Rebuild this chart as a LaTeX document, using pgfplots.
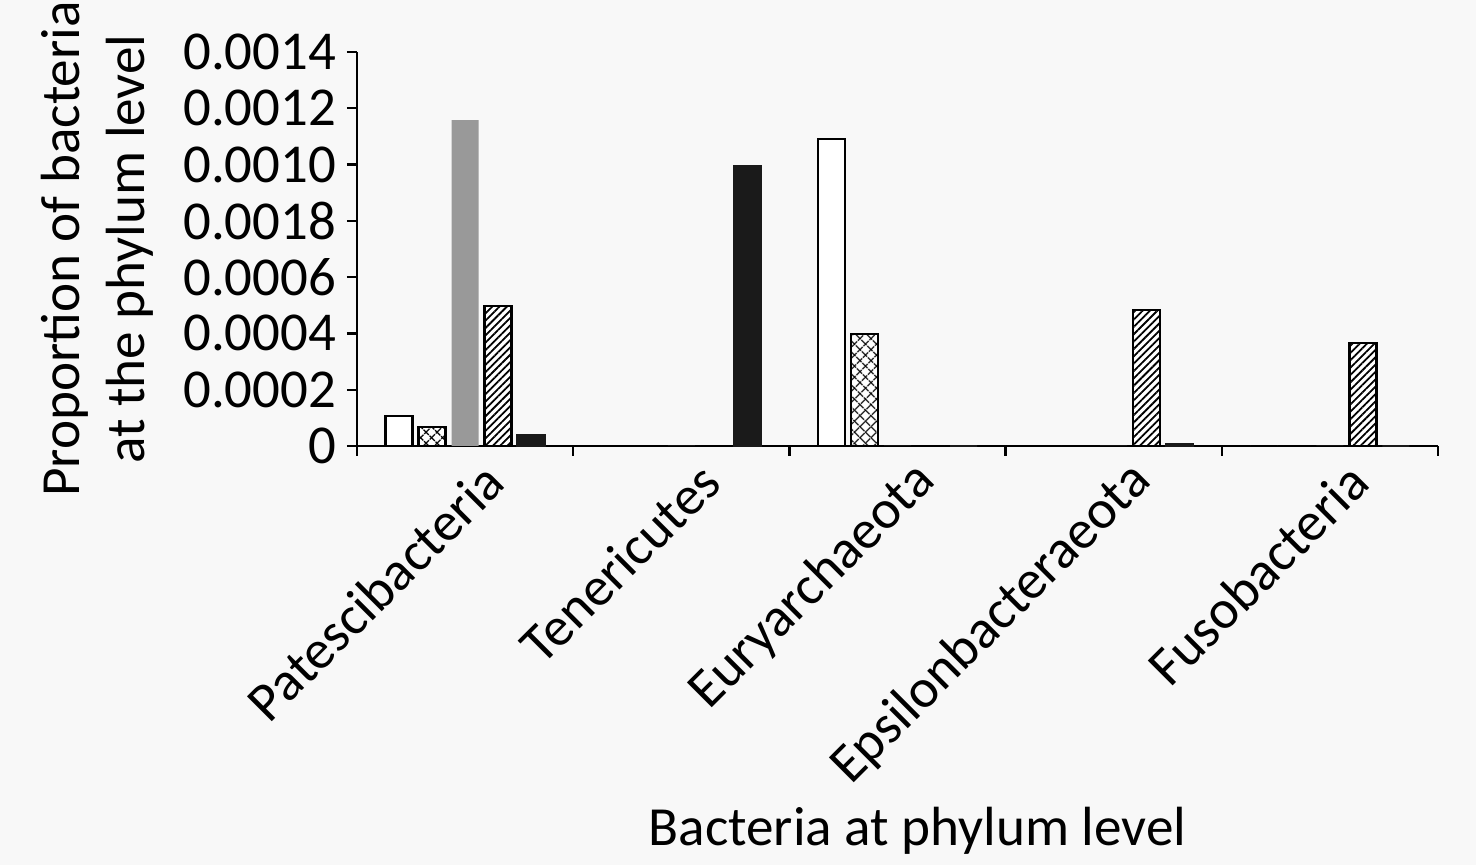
\documentclass[border=0pt]{standalone}
\usepackage{fontspec}
\setmainfont{Carlito}
\usepackage{pgfplots}
\pgfplotsset{compat=1.18}
\usetikzlibrary{patterns.meta}
\definecolor{bg}{RGB}{248,248,248}
\definecolor{grbar}{RGB}{153,153,153}
\definecolor{blk}{RGB}{26,26,26}
\begin{document}
\begin{tikzpicture}
\path[use as bounding box, fill=bg] (-178.5pt,-209.5pt) rectangle (559.5pt,223pt);
\begin{axis}[
  at={(0,0)}, anchor=south west,
  scale only axis, width=540.5pt, height=197pt,
  ybar=3pt, bar width=13.5pt,
  xmin=-0.5, xmax=4.5, ymin=0, ymax=0.0014,
  axis x line*=bottom, axis y line*=left,
  axis line style={line width=1.4pt, -, black},
  xtick={0,1,2,3,4},
  xticklabels={Patescibacteria,Tenericutes,Euryarchaeota,Epsilonbacteraeota,Fusobacteria},
  major x tick style={draw=none},
  minor xtick={-0.5,0.5,1.5,2.5,3.5,4.5},
  ytick={0,0.0002,0.0004,0.0006,0.0008,0.001,0.0012,0.0014},
  yticklabels={0,0.0002,0.0004,0.0006,0.0018,0.0010,0.0012,0.0014},
  scaled y ticks=false,
  tick align=outside, major tick length=5pt, minor tick length=5pt,
  tick style={line width=1.2pt, black},
  /pgf/number format/assume math mode=true,
  ticklabel style={font=\fontsize{27.4}{32}\selectfont},
  xticklabel style={xshift=17pt, yshift=-6pt, rotate=45, anchor=east},
  yticklabel style={xshift=-2pt},
  xlabel={Bacteria at phylum level},
  xlabel style={font=\fontsize{27.6}{32}\selectfont, at={(axis description cs:0.5185,0)}, anchor=base, yshift=-199.5pt},
  ylabel={Proportion of bacteria\\at the phylum level},
  ylabel style={font=\fontsize{27.6}{32.5}\selectfont, align=center, at={(axis description cs:-0.2405,0.5)}, anchor=center},
  clip=false,
]
\addplot[draw=black, line width=1.2pt, fill=white] coordinates {(0,0.000107) (1,0) (2,0.001091) (3,0) (4,0)};
\addplot[draw=black, line width=1.2pt, fill=white,
  postaction={pattern={Lines[angle=45,distance=4pt,line width=0.8pt]}},
  postaction={pattern={Lines[angle=-45,distance=4pt,line width=0.8pt]}}] coordinates {(0,0.0000675) (1,0) (2,0.000398) (3,0) (4,0)};
\addplot[draw=none, fill=grbar] coordinates {(0,0.001158) (1,0) (2,0) (3,0) (4,0)};
\addplot[draw=black, line width=1.2pt, fill=white,
  postaction={pattern={Lines[angle=45,distance=2.6pt,line width=0.9pt]}}] coordinates {(0,0.000497) (1,0) (2,0) (3,0.000483) (4,0.000366)};
\addplot[draw=blk, line width=1.2pt, fill=blk] coordinates {(0,0.000039) (1,0.000995) (2,0) (3,0.000005) (4,0)};
\end{axis}
\end{tikzpicture}
\end{document}
